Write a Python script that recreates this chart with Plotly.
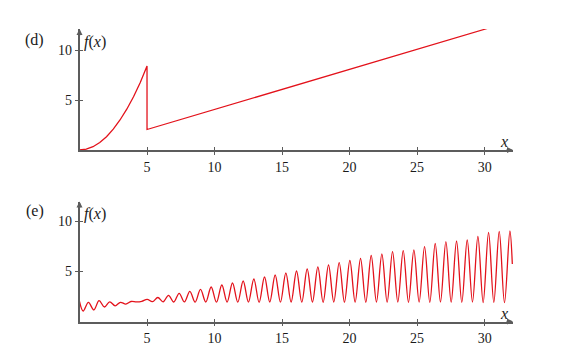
import plotly.graph_objects as go

# ---- data: panel (d) ----
d_x = [0, 0.5, 1.0, 1.5, 2.0, 2.5, 3.0, 3.5, 4.0, 4.5, 5.0, 5.0, 30.2]
d_y = [0, 0.08, 0.33, 0.75, 1.33, 2.08, 3.0, 4.08, 5.33, 6.75, 8.4, 2.05, 12.15]

# ---- data: panel (e) (extrema) ----
e_x = [0.00, 0.27, 0.66, 1.06, 1.45, 1.85, 2.24, 2.64, 3.03, 3.43, 3.82, 4.22, 4.61,
       5.01, 5.40, 5.80, 6.19, 6.59, 6.98, 7.38, 7.77, 8.17, 8.56, 8.96, 9.35, 9.75,
       10.14, 10.54, 10.93, 11.33, 11.72, 12.12, 12.51, 12.91, 13.30, 13.70, 14.09,
       14.49, 14.88, 15.28, 15.67, 16.07, 16.46, 16.86, 17.25, 17.65, 18.04, 18.44,
       18.83, 19.23, 19.62, 20.02, 20.41, 20.81, 21.20, 21.60, 21.99, 22.39, 22.78,
       23.18, 23.57, 23.97, 24.36, 24.76, 25.15, 25.55, 25.94, 26.34, 26.73, 27.13,
       27.52, 27.92, 28.31, 28.71, 29.10, 29.50, 29.89, 30.29, 30.68, 31.08, 31.47,
       31.87, 32.05]
e_y = [2.00, 1.05, 1.92, 1.16, 2.08, 1.45, 1.97, 1.57, 1.92, 1.74, 2.00, 1.96, 2.02,
       2.22, 1.98, 2.40, 1.97, 2.62, 1.95, 2.82, 1.96, 3.02, 1.94, 3.22, 1.95, 3.45,
       1.93, 3.65, 1.94, 3.85, 1.93, 4.05, 1.94, 4.25, 1.92, 4.45, 1.95,
       4.65, 1.93, 4.85, 1.95, 5.05, 1.93, 5.25, 1.94, 5.45, 1.92, 5.65,
       1.95, 5.88, 1.93, 6.10, 1.94, 6.30, 1.92, 6.60, 1.95, 6.75, 1.93,
       6.98, 1.95, 7.08, 1.92, 7.15, 1.94, 7.48, 1.92, 7.80, 1.95, 7.98,
       1.93, 8.05, 1.92, 8.15, 1.95, 8.50, 1.90, 8.90, 1.92, 9.00, 1.88,
       9.05, 5.75]

x_ticks = [5, 10, 15, 20, 25, 30]
y_ticks = [5, 10]
x_tick_labels = ["5", "10", "15", "20", "25", "30"]
y_tick_labels = ["5", "10"]

RED = "#e3121b"
AX = "#5c5c5c"
FONT = "Liberation Serif, DejaVu Serif, serif"
TXT = "#1a1a1a"

fig = go.Figure()
fig.add_trace(go.Scatter(x=d_x, y=d_y, mode="lines", line=dict(color=RED, width=1.3),
                         xaxis="x", yaxis="y", showlegend=False, hoverinfo="skip"))
fig.add_trace(go.Scatter(x=e_x, y=e_y, mode="lines", line=dict(color=RED, width=1.3, shape="spline", smoothing=1),
                         xaxis="x2", yaxis="y2", showlegend=False, hoverinfo="skip"))
# invisible traces so the overlay tick axes are drawn
fig.add_trace(go.Scatter(x=[None], y=[None], xaxis="x3", yaxis="y3", showlegend=False, hoverinfo="skip"))
fig.add_trace(go.Scatter(x=[None], y=[None], xaxis="x4", yaxis="y4", showlegend=False, hoverinfo="skip"))

xdom = [79.5 / 582, 513 / 582]
ydom_d = [(363 - 150) / 363, (363 - 29) / 363]
ydom_e = [(363 - 321.5) / 363, (363 - 201.5) / 363]


def xax(anchor, ticks="outside", labels=True, line=True, overlay=None):
    d = dict(domain=xdom, range=[0, 32.1], anchor=anchor, showline=line, linecolor=AX, linewidth=1.5,
             ticks=ticks, ticklen=3, tickwidth=1, tickcolor=AX, showticklabels=labels,
             tickvals=x_ticks, ticktext=x_tick_labels, showgrid=False, zeroline=False,
             tickfont=dict(family=FONT, size=14, color=TXT), fixedrange=True, side="bottom")
    if overlay:
        d["overlaying"] = overlay
    return d


def yax(anchor, dom, top, ticks="outside", labels=True, line=True, overlay=None):
    d = dict(domain=dom, range=[0, top], anchor=anchor, showline=line, linecolor=AX, linewidth=1.5,
             ticks=ticks, ticklen=3, tickwidth=1, tickcolor=AX, showticklabels=labels,
             tickvals=y_ticks, ticktext=y_tick_labels, showgrid=False, zeroline=False,
             tickfont=dict(family=FONT, size=14, color=TXT), fixedrange=True, side="left")
    if overlay:
        d["overlaying"] = overlay
    return d


annotations = []
for xr, yr, ytop, lab, ply in [("x", "y", 12.1, "(d)", (363 - 40) / 363),
                               ("x2", "y2", 12.0, "(e)", (363 - 211) / 363)]:
    annotations.append(dict(x=32.1, y=0, xref=xr, yref=yr, ax=-8, ay=0, axref="pixel", ayref="pixel",
                            showarrow=True, arrowhead=2, arrowsize=0.8, arrowwidth=1.5, arrowcolor=AX, text=""))
    annotations.append(dict(x=0, y=ytop, xref=xr, yref=yr, ax=0, ay=8,
                            showarrow=True, arrowhead=2, arrowsize=0.8, arrowwidth=1.5, arrowcolor=AX, text=""))
    annotations.append(dict(x=0, y=10.77, xref=xr, yref=yr, xanchor="left", yanchor="middle", xshift=3,
                            text="<i>f</i>(<i>x</i>)", showarrow=False,
                            font=dict(family=FONT, size=16, color=TXT)))
    annotations.append(dict(x=31.4, y=0.85, xref=xr, yref=yr, xanchor="center", yanchor="middle",
                            text="<i>x</i>", showarrow=False,
                            font=dict(family=FONT, size=16, color=TXT)))
    annotations.append(dict(x=34.5 / 582, y=ply, xref="paper", yref="paper", xanchor="center", yanchor="middle",
                            text=lab, showarrow=False, font=dict(family=FONT, size=16, color=TXT)))

fig.update_layout(
    width=582, height=363, margin=dict(l=0, r=0, t=0, b=0),
    paper_bgcolor="white", plot_bgcolor="white",
    xaxis=xax("y"),
    yaxis=yax("x", ydom_d, 12.1),
    xaxis2=xax("y2"),
    yaxis2=yax("x2", ydom_e, 12.0),
    xaxis3=xax("y3", ticks="inside", labels=False, line=False, overlay="x"),
    yaxis3=yax("x3", ydom_d, 12.1, ticks="inside", labels=False, line=False, overlay="y"),
    xaxis4=xax("y4", ticks="inside", labels=False, line=False, overlay="x2"),
    yaxis4=yax("x4", ydom_e, 12.0, ticks="inside", labels=False, line=False, overlay="y2"),
    annotations=annotations,
)

fig.write_html("out.html")
